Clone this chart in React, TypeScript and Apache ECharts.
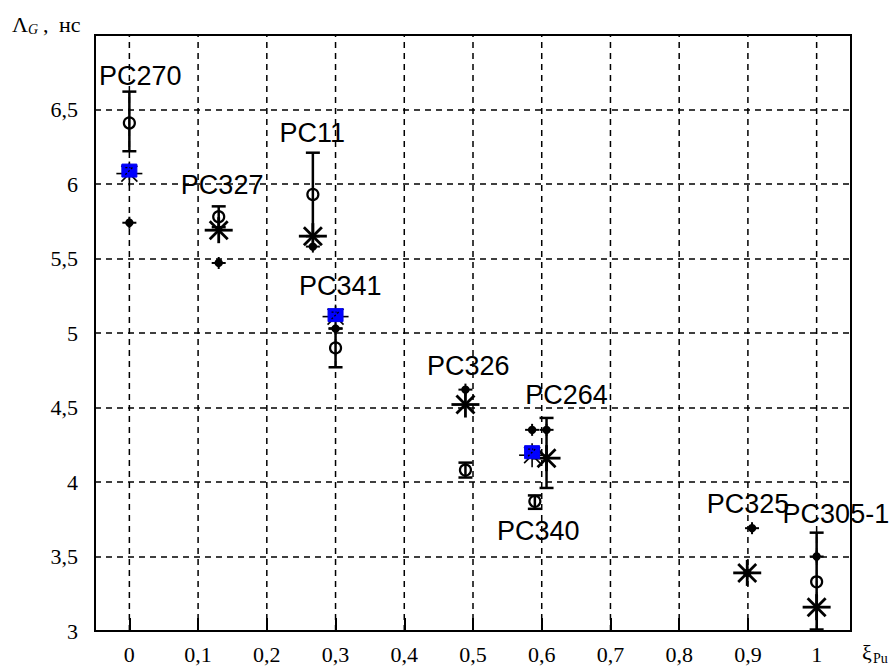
import React, { useEffect, useRef } from 'react';
import * as echarts from 'echarts';

// Axis ticks
const xTicks = [0, 0.1, 0.2, 0.3, 0.4, 0.5, 0.6, 0.7, 0.8, 0.9, 1];
const yMin = 3;
const yMax = 7;
const yStep = 0.5;

// Error bars: [x, low, high]
const errorBars = [
  [0, 6.22, 6.62],
  [0.13, 5.71, 5.85],
  [0.267, 5.65, 6.21],
  [0.3, 4.77, 5.03],
  [0.489, 4.03, 4.13],
  [0.59, 3.82, 3.91],
  [0.607, 3.96, 4.43],
  [1.0, 3.01, 3.66],
];

// Open circles: [x, y]
const circles = [
  [0, 6.41],
  [0.13, 5.78],
  [0.267, 5.93],
  [0.3, 4.9],
  [0.489, 4.08],
  [0.59, 3.87],
  [1.0, 3.33],
];

// Large asterisks: [x, y]
const bigStars = [
  [0.13, 5.69],
  [0.267, 5.65],
  [0.489, 4.52],
  [0.607, 4.16],
  [0.899, 3.39],
  [1.0, 3.16],
];

// Thin asterisks under blue squares: [x, y]
const smallStars = [
  [0, 6.07],
  [0.3, 5.11],
  [0.586, 4.18],
];

// Small filled dots: [x, y]
const dots = [
  [0, 5.74],
  [0.13, 5.47],
  [0.267, 5.58],
  [0.3, 5.03],
  [0.489, 4.62],
  [0.586, 4.35],
  [0.607, 4.35],
  [0.906, 3.69],
  [0.899, 3.39],
  [1.0, 3.5],
];

// Blue squares: [x, y]
const squares = [
  [0, 6.09],
  [0.3, 5.12],
  [0.586, 4.2],
];

// Point labels
const labelNames = ['PC270', 'PC327', 'PC11', 'PC341', 'PC326', 'PC264', 'PC340', 'PC325', 'PC305-1'];
const labelX = [0.016, 0.135, 0.266, 0.307, 0.493, 0.636, 0.595, 0.9, 1.028];
const labelY = [6.725, 5.993, 6.342, 5.315, 4.779, 4.584, 3.671, 3.852, 3.785];

const BLACK = '#000';
const SERIF = 'Liberation Serif';
const SANS = 'Liberation Sans';

function line(x1: number, y1: number, x2: number, y2: number, lw: number, dash?: number[]) {
  return {
    type: 'line',
    shape: { x1, y1, x2, y2 },
    style: { stroke: BLACK, lineWidth: lw, lineDash: dash },
  };
}

function star(cx: number, cy: number, hx: number, hy: number, d: number, lw: number) {
  return [
    line(cx - hx, cy, cx + hx, cy, lw),
    line(cx, cy - hy, cx, cy + hy, lw),
    line(cx - d, cy - d, cx + d, cy + d, lw),
    line(cx - d, cy + d, cx + d, cy - d, lw),
  ];
}

export default function App() {
  const ref = useRef<HTMLDivElement>(null);

  useEffect(() => {
    if (!ref.current) return;
    const chart = echarts.init(ref.current, undefined, { renderer: 'svg' });

    const option: any = {
      animation: false,
      backgroundColor: '#fff',
      grid: {
        left: 95,
        right: 39,
        top: 35,
        bottom: 37,
        show: true,
        borderColor: BLACK,
        borderWidth: 2,
        backgroundColor: 'transparent',
      },
      xAxis: {
        type: 'value',
        min: -0.05,
        max: 1.05,
        axisLine: { show: true, onZero: false, lineStyle: { color: BLACK, width: 2 } },
        axisTick: {
          show: true,
          inside: true,
          length: 13,
          customValues: xTicks,
          lineStyle: { color: BLACK, width: 2 },
        },
        axisLabel: {
          customValues: xTicks,
          margin: 12,
          color: BLACK,
          fontFamily: SERIF,
          fontSize: 22,
          formatter: (v: number) => String(Math.round(v * 10) / 10).replace('.', ','),
        },
        splitLine: { show: false },
      },
      yAxis: {
        type: 'value',
        min: yMin,
        max: yMax,
        interval: yStep,
        axisLine: { show: true, onZero: false, lineStyle: { color: BLACK, width: 2 } },
        axisTick: { show: false },
        axisLabel: {
          margin: 17,
          color: BLACK,
          fontFamily: SERIF,
          fontSize: 22,
          formatter: (v: number) => (v >= yMax ? '' : String(v).replace('.', ',')),
        },
        splitLine: { show: true, lineStyle: { color: BLACK, width: 1.5, type: [6, 5] } },
      },
      graphic: [
        { type: 'text', x: 12, y: 24.5, style: { text: 'Λ', fontFamily: SERIF, fontSize: 22, fill: BLACK, align: 'left', verticalAlign: 'middle' } },
        { type: 'text', x: 28, y: 29, style: { text: 'G', fontFamily: SERIF, fontStyle: 'italic', fontSize: 14, fill: BLACK, align: 'left', verticalAlign: 'middle' } },
        { type: 'text', x: 43, y: 24.5, style: { text: ',', fontFamily: SERIF, fontSize: 22, fill: BLACK, align: 'left', verticalAlign: 'middle' } },
        { type: 'text', x: 59, y: 24.5, style: { text: 'нс', fontFamily: SERIF, fontSize: 22, fill: BLACK, align: 'left', verticalAlign: 'middle' } },
        { type: 'text', x: 862, y: 652, style: { text: 'ξ', fontFamily: SERIF, fontSize: 22, fill: BLACK, align: 'left', verticalAlign: 'middle' } },
        { type: 'text', x: 873, y: 658, style: { text: 'Pu', fontFamily: SERIF, fontSize: 14, fill: BLACK, align: 'left', verticalAlign: 'middle' } },
      ],
      series: [
        {
          // vertical dashed grid lines at x ticks
          type: 'custom',
          z: 1,
          silent: true,
          data: xTicks.map((v) => [v, yMin]),
          renderItem: (params: any, api: any) => {
            const p1 = api.coord([api.value(0), yMin]);
            const p2 = api.coord([api.value(0), yMax]);
            return line(p1[0], p1[1], p2[0], p2[1], 1.5, [6, 5]);
          },
        },
        {
          type: 'custom',
          z: 3,
          data: errorBars,
          renderItem: (params: any, api: any) => {
            const lo = api.coord([api.value(0), api.value(1)]);
            const hi = api.coord([api.value(0), api.value(2)]);
            const w = 7;
            return {
              type: 'group',
              children: [
                line(lo[0], lo[1], hi[0], hi[1], 2.5),
                line(lo[0] - w, lo[1], lo[0] + w, lo[1], 2.5),
                line(hi[0] - w, hi[1], hi[0] + w, hi[1], 2.5),
              ],
            };
          },
        },
        {
          type: 'custom',
          z: 4,
          data: circles,
          renderItem: (params: any, api: any) => {
            const p = api.coord([api.value(0), api.value(1)]);
            return {
              type: 'circle',
              shape: { cx: p[0], cy: p[1], r: 5.5 },
              style: { fill: 'none', stroke: BLACK, lineWidth: 2.2 },
            };
          },
        },
        {
          type: 'custom',
          z: 5,
          data: bigStars,
          renderItem: (params: any, api: any) => {
            const p = api.coord([api.value(0), api.value(1)]);
            return { type: 'group', children: star(p[0], p[1], 14, 13, 9, 2.8) };
          },
        },
        {
          type: 'custom',
          z: 5,
          data: smallStars,
          renderItem: (params: any, api: any) => {
            const p = api.coord([api.value(0), api.value(1)]);
            return { type: 'group', children: star(p[0], p[1], 13, 12, 8, 1.6) };
          },
        },
        {
          type: 'custom',
          z: 6,
          data: dots,
          renderItem: (params: any, api: any) => {
            const p = api.coord([api.value(0), api.value(1)]);
            return {
              type: 'group',
              children: [
                { type: 'circle', shape: { cx: p[0], cy: p[1], r: 4.2 }, style: { fill: BLACK } },
                line(p[0] - 7, p[1], p[0] + 7, p[1], 2),
                line(p[0], p[1] - 6, p[0], p[1] + 6, 2),
              ],
            };
          },
        },
        {
          type: 'custom',
          z: 7,
          data: squares,
          renderItem: (params: any, api: any) => {
            const p = api.coord([api.value(0), api.value(1)]);
            return {
              type: 'group',
              children: [
                {
                  type: 'rect',
                  shape: { x: p[0] - 7.5, y: p[1] - 6.5, width: 15, height: 13 },
                  style: { fill: '#0000ff', stroke: '#0000ee', lineWidth: 1 },
                },
                line(p[0] - 4, p[1] + 4, p[0] + 4, p[1] - 4, 1.3, [2, 2]),
                line(p[0] - 4, p[1] - 3, p[0] + 1, p[1] - 3, 1.3, [2, 2]),
              ],
            };
          },
        },
        {
          type: 'custom',
          z: 8,
          data: labelNames.map((_, i) => [labelX[i], labelY[i]]),
          renderItem: (params: any, api: any) => {
            const p = api.coord([api.value(0), api.value(1)]);
            return {
              type: 'text',
              x: p[0],
              y: p[1],
              style: {
                text: labelNames[params.dataIndex],
                fontFamily: SANS,
                fontSize: 27,
                fill: BLACK,
                align: 'center',
                verticalAlign: 'middle',
              },
            };
          },
        },
      ],
    };

    chart.setOption(option);
    return () => {
      chart.dispose();
    };
  }, []);

  return (
    <div
      ref={ref}
      style={{ position: 'fixed', left: 0, top: 0, width: 890, height: 668, background: '#fff' }}
    />
  );
}
